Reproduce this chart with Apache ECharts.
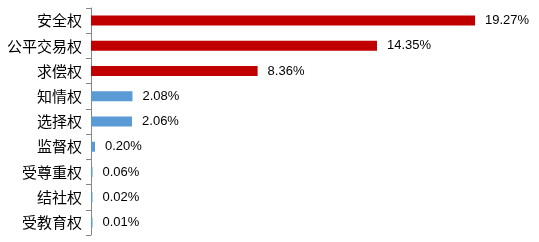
<!DOCTYPE html>
<html><head><meta charset="utf-8">
<script src="https://cdn.jsdelivr.net/npm/echarts@6/dist/echarts.min.js"></script>
<style>html,body{margin:0;padding:0;background:#fff}#c{width:539px;height:242px}</style>
</head><body><div id="c"></div>
<script>
const categories = ['安全权','公平交易权','求偿权','知情权','选择权','监督权','受尊重权','结社权','受教育权'];
const values = [19.27, 14.35, 8.36, 2.08, 2.06, 0.20, 0.06, 0.02, 0.01];
const highlightCount = 3;
const colorHigh = '#C00000';
const colorLow = '#5B9BD5';

const chart = echarts.init(document.getElementById('c'), null, {renderer:'canvas'});
chart.setOption({
  animation:false,
  grid:{left:91, top:8, bottom:7, right:49.4, containLabel:false},
  xAxis:{type:'value', min:0, max:20, show:false},
  yAxis:{type:'category', inverse:true, data:categories,
    axisLine:{show:true, lineStyle:{color:'#868686', width:1}},
    axisTick:{show:true, length:5, lineStyle:{color:'#868686'}},
    axisLabel:{margin:9, fontSize:15, color:'#000', fontFamily:'"Noto Sans CJK SC", sans-serif'}
  },
  series:[{type:'bar', barWidth:10, barMinHeight:1.5,
    data: values.map((v,i)=>({value:v, itemStyle:{color: i<highlightCount?colorHigh:colorLow}})),
    label:{show:true, position:'right', distance:10, fontSize:13, color:'#000',
      fontFamily:'"Liberation Sans", Arial, sans-serif',
      formatter:p=>p.value.toFixed(2)+'%'}
  }]
});
</script></body></html>
